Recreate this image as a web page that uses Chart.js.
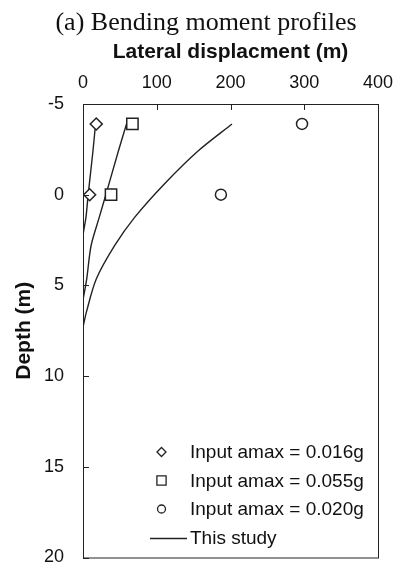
<!DOCTYPE html>
<html>
<head>
<meta charset="utf-8">
<title>Bending moment profiles</title>
<script src="https://cdn.jsdelivr.net/npm/chart.js@4.4.1/dist/chart.umd.min.js"></script>
<style>
  html, body { margin: 0; padding: 0; background: #fff; }
  #chart { display: block; }
</style>
</head>
<body>
<canvas id="chart" width="401" height="567"></canvas>
<script>
// measured points (depth in m, lateral displacement)
const markDepths = [-3.9, 0];
const dispLow = [18, 9];      // amax = 0.016g
const dispMid = [67, 38];     // amax = 0.055g
const dispHigh = [297, 187];  // amax = 0.020g

// "This study" curves
const curveDepthA = [-3.9, -2.41, 0, 1.25, 2.3, 3.7];
const curveDispA = [17, 13.5, 7, 4, 0, 0];
const curveDepthB = [-3.9, -2.41, 0, 1.25, 2.8, 4.65, 5.8];
const curveDispB = [59, 48, 31, 22, 11, 5, 0];
const curveDepthC = [-3.9, -2.41, -0.58, 1.25, 2.8, 4.65, 6.47, 7.3];
const curveDispC = [202, 156, 110, 70, 43, 18, 4.6, 0];

const xTicks = [0, 100, 200, 300, 400];
const yTicks = [-5, 0, 5, 10, 15, 20];
const legendLabels = ['Input amax = 0.016g', 'Input amax = 0.055g', 'Input amax = 0.020g', 'This study'];
const chartTitle = '(a) Bending moment profiles';

const SANS = '"Liberation Sans", Arial, sans-serif';
const SERIF = '"Liberation Serif", "Times New Roman", serif';

function toPoints(xs, ys) {
    return xs.map((x, i) => ({ x: x, y: ys[i] }));
}

function markerSet(label, xs, style, radius) {
    return {
        label: label,
        data: toPoints(xs, markDepths),
        showLine: false,
        pointStyle: style,
        pointRadius: radius,
        pointBorderWidth: 1.5,
        pointBorderColor: '#222',
        pointBackgroundColor: '#fff',
        order: 0
    };
}

function curveSet(xs, ys) {
    return {
        label: 'This study',
        data: toPoints(xs, ys),
        showLine: true,
        borderColor: '#222',
        borderWidth: 1.4,
        pointRadius: 0,
        tension: 0.3,
        order: 1
    };
}

// title, box, inward ticks and the legend inside the plot
const framePlugin = {
    id: 'frame',
    afterDraw(chart) {
        const ctx = chart.ctx;
        const a = chart.chartArea;
        const xs = chart.scales.x;
        const ys = chart.scales.y;
        ctx.save();

        ctx.fillStyle = '#111';
        ctx.font = '26px ' + SERIF;
        ctx.textAlign = 'center';
        ctx.textBaseline = 'middle';
        ctx.fillText(chartTitle, 206, 23);

        ctx.strokeStyle = '#222';
        ctx.lineWidth = 1;
        ctx.strokeRect(a.left + 0.5, a.top + 0.5, a.right - a.left, a.bottom - a.top);
        ctx.beginPath();
        xTicks.forEach(v => {
            const px = Math.round(xs.getPixelForValue(v)) + 0.5;
            ctx.moveTo(px, a.top);
            ctx.lineTo(px, a.top + 6);
        });
        yTicks.forEach(v => {
            const py = Math.round(ys.getPixelForValue(v)) + 0.5;
            ctx.moveTo(a.left, py);
            ctx.lineTo(a.left + 6, py);
        });
        ctx.stroke();

        // legend
        const styles = [
            { pointStyle: 'rectRot', radius: 4.5 },
            { pointStyle: 'rect', radius: 6.5 },
            { pointStyle: 'circle', radius: 4 }
        ];
        const rowY = [452, 480.5, 509, 537.5];
        const symX = 161.5;
        const textX = 190;
        ctx.fillStyle = '#fff';
        ctx.strokeStyle = '#222';
        ctx.lineWidth = 1.3;
        styles.forEach((s, i) => {
            Chart.helpers.drawPoint(ctx, {
                pointStyle: s.pointStyle, radius: s.radius, rotation: 0, borderWidth: 1.3
            }, symX, rowY[i]);
        });
        ctx.beginPath();
        ctx.lineWidth = 1.4;
        ctx.moveTo(150, rowY[3] + 1);
        ctx.lineTo(187, rowY[3] + 1);
        ctx.stroke();

        ctx.fillStyle = '#111';
        ctx.font = '19px ' + SANS;
        ctx.textBaseline = 'middle';
        ctx.textAlign = 'left';
        legendLabels.forEach((t, i) => ctx.fillText(t, textX, rowY[i] + 1));
        ctx.restore();
    }
};

const ctx = document.getElementById('chart').getContext('2d');
new Chart(ctx, {
    type: 'scatter',
    data: {
        datasets: [
            markerSet(legendLabels[0], dispLow, 'rectRot', 6),
            markerSet(legendLabels[1], dispMid, 'rect', 8),
            markerSet(legendLabels[2], dispHigh, 'circle', 5.5),
            curveSet(curveDispA, curveDepthA),
            curveSet(curveDispB, curveDepthB),
            curveSet(curveDispC, curveDepthC)
        ]
    },
    options: {
        responsive: false,
        animation: false,
        layout: { padding: { top: 0, right: 23, bottom: 7, left: 0 } },
        plugins: {
            legend: { display: false },
            tooltip: { enabled: false },
            title: { display: false }
        },
        scales: {
            x: {
                type: 'linear',
                position: 'top',
                min: 0,
                max: 400,
                afterBuildTicks: s => { s.ticks = xTicks.map(v => ({ value: v })); },
                ticks: { color: '#111', font: { family: SANS, size: 18 }, padding: 10, maxRotation: 0 },
                grid: { display: false, drawTicks: false },
                border: { display: false },
                title: {
                    display: true,
                    text: 'Lateral displacment (m)',
                    color: '#111',
                    font: { family: SANS, size: 21, weight: 'bold' },
                    padding: { top: 40, bottom: 0 }
                },
                afterFit: s => {
                    s.height = 104;
                    s.paddingLeft = 0;
                    s.paddingRight = 0;
                }
            },
            y: {
                type: 'linear',
                reverse: true,
                min: -5,
                max: 20,
                afterBuildTicks: s => { s.ticks = yTicks.map(v => ({ value: v })); },
                ticks: { color: '#111', font: { family: SANS, size: 18 }, padding: 19 },
                grid: { display: false, drawTicks: false },
                border: { display: false },
                title: {
                    display: true,
                    text: 'Depth (m)',
                    color: '#111',
                    font: { family: SANS, size: 21, weight: 'bold' },
                    padding: { top: 12, bottom: 0 }
                },
                afterFit: s => {
                    s.width = 83;
                    s.paddingTop = 0;
                    s.paddingBottom = 0;
                }
            }
        }
    },
    plugins: [framePlugin]
});
</script>
</body>
</html>
